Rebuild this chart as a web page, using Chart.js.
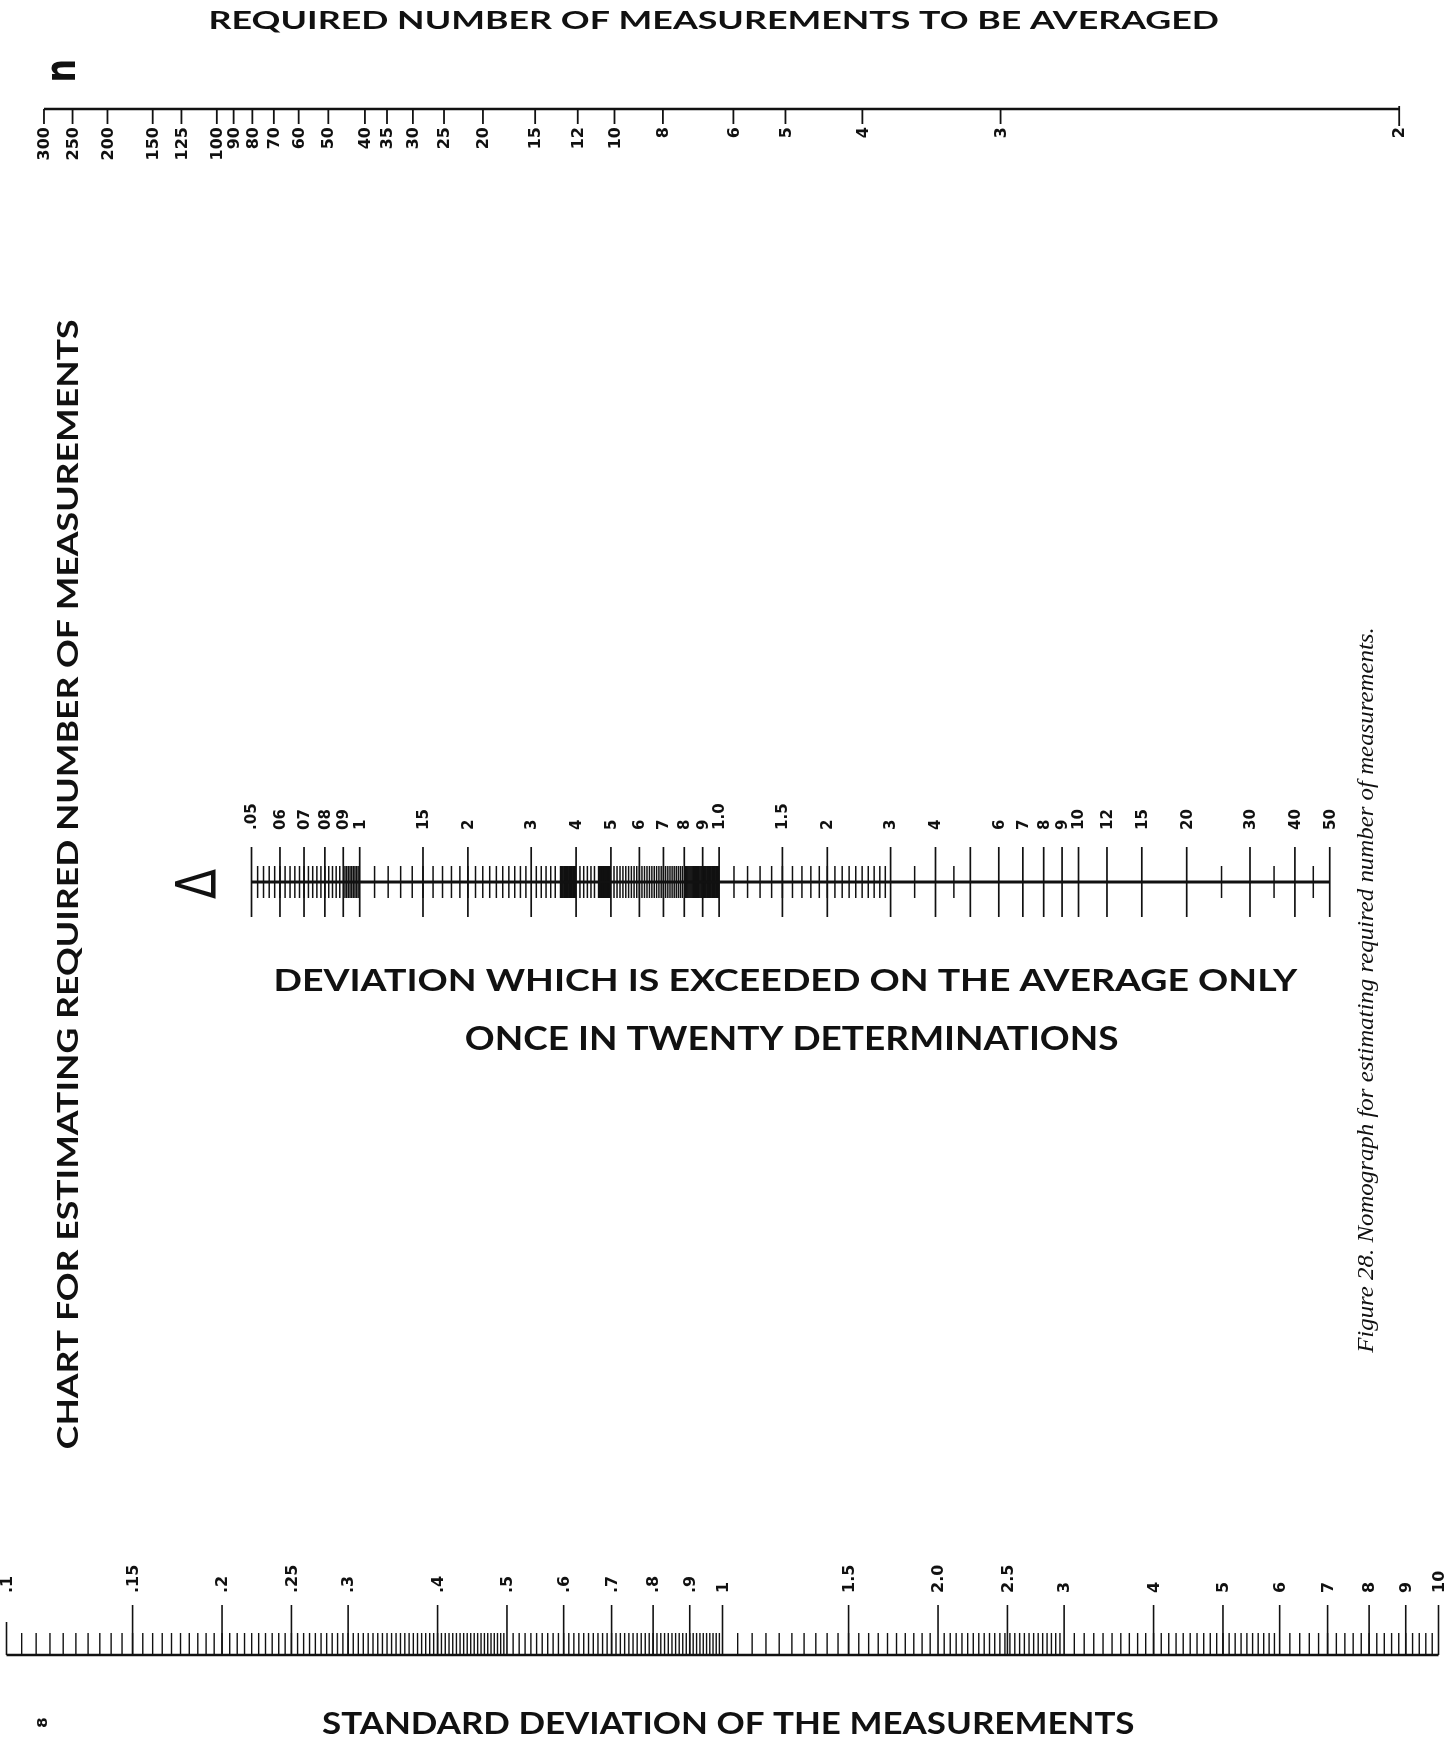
<!DOCTYPE html>
<html><head><meta charset="utf-8">
<script src="https://cdn.jsdelivr.net/npm/chart.js@4.4.1/dist/chart.umd.min.js"></script>
<style>html,body{margin:0;padding:0;background:#fff;}</style>
</head><body>
<canvas id="c" width="1455" height="1740"></canvas>
<script>
// ---------- DATA ----------
// Top scale: required number n, placed by t(0.975, n-1)/sqrt(n)
const nLabels = [300,250,200,150,125,100,90,80,70,60,50,40,35,30,25,20,15,12,10,8,6,5,4,3,2];
const tQuantiles = [1.968,1.970,1.972,1.976,1.979,1.984,1.987,1.990,1.995,2.001,2.010,2.023,2.032,2.045,2.064,2.093,2.145,2.201,2.262,2.365,2.571,2.776,3.182,4.303,12.706];

// Middle scale: deviation exceeded once in twenty (Delta)
const deltaLabelValues = [0.05,0.06,0.07,0.08,0.09,0.1,0.15,0.2,0.3,0.4,0.5,0.6,0.7,0.8,0.9,1.0,1.5,2,3,4,6,7,8,9,10,12,15,20,30,40,50];
const deltaLabelTexts  = [".05","06","07","08","09","1","15","2","3","4","5","6","7","8","9","1.0","1.5","2","3","4","6","7","8","9","10","12","15","20","30","40","50"];
const deltaExtraLong   = [5];
const deltaMinorSingles = [3.5,4.5,25,35,45];
const deltaMinorRanges = [[0.05,0.09,0.002],[0.09,0.1,0.001],[0.1,0.3,0.01],[0.3,0.36,0.01],[0.36,0.4,0.002],[0.4,0.46,0.01],[0.46,0.5,0.002],[0.5,0.8,0.01],[0.8,1.0,0.005],[1,3,0.1]];

// Bottom scale: standard deviation of the measurements (sigma)
const sigmaLabelValues = [0.1,0.15,0.2,0.25,0.3,0.4,0.5,0.6,0.7,0.8,0.9,1,1.5,2,2.5,3,4,5,6,7,8,9,10];
const sigmaLabelTexts  = [".1",".15",".2",".25",".3",".4",".5",".6",".7",".8",".9","1","1.5","2.0","2.5","3","4","5","6","7","8","9","10"];
const sigmaMinorRanges = [[0.1,0.5,0.005],[0.5,1,0.01],[1,2,0.05],[2,3,0.04],[3,6,0.1],[6,10,0.2]];

// ---------- derived ----------
const nRatio = nLabels.map((n,i)=>tQuantiles[i]/Math.sqrt(n));
function expand(ranges){
  const out=[];
  ranges.forEach(([a,b,s])=>{ const k=Math.round((b-a)/s); for(let i=1;i<k;i++) out.push(+(a+i*s).toFixed(5)); });
  return out;
}
const deltaMinor = expand(deltaMinorRanges).concat(deltaMinorSingles);
const sigmaMinor = expand(sigmaMinorRanges);
const sigmaLong = sigmaLabelValues.filter(v=>v!==0.1);
const sigmaMid = [0.1];

// layout (pixels of the y helper scale)
const Y_TOP=109, Y_MID=882, Y_BOT=1655;
const BLACK='#111';

function tickSet(axisId, values, yCenter, halfLen, width){
  return {type:'scatter', xAxisID:axisId, yAxisID:'y',
    data: values.map(v=>({x:v,y:yCenter})),
    pointStyle:'line', pointRotation:90, pointRadius:halfLen, pointHoverRadius:halfLen,
    pointBorderWidth:width, pointBorderColor:BLACK, pointBackgroundColor:BLACK, showLine:false};
}
function baseline(axisId, a, b, y, width){
  return {type:'line', xAxisID:axisId, yAxisID:'y', data:[{x:a,y:y},{x:b,y:y}],
    borderColor:BLACK, borderWidth:width, pointRadius:0, showLine:true, fill:false};
}

const datasets = [
  baseline('xn', nRatio[0], nRatio[nRatio.length-1], Y_TOP, 2.5),
  tickSet('xn', nRatio.slice(0,-1), Y_TOP+7.5, 7.5, 1.8),
  tickSet('xn', [nRatio[nRatio.length-1]], Y_TOP+7, 10, 1.8),
  baseline('xd', 0.05, 50, Y_MID, 3),
  tickSet('xd', deltaLabelValues.concat(deltaExtraLong), Y_MID, 35, 1.7),
  tickSet('xd', deltaMinor, Y_MID, 16, 1.5),
  baseline('xs', 0.1, 10, Y_BOT, 2.5),
  tickSet('xs', sigmaLong, Y_BOT-25, 25, 1.6),
  tickSet('xs', sigmaMid, Y_BOT-16.5, 16.5, 1.6),
  tickSet('xs', sigmaMinor, Y_BOT-11, 11, 1.4),
];

function rotLabel(ctx, txt, x, y, align){
  ctx.save(); ctx.translate(x,y); ctx.rotate(-Math.PI/2);
  ctx.textAlign=align; ctx.textBaseline='middle'; ctx.fillText(txt,0,1); ctx.restore();
}
// fit text into a screen box; rot = true means reading bottom-to-top
function fitBox(ctx, txt, font, x0, y0, x1, y1, rot){
  ctx.save();
  ctx.font=font; ctx.textAlign='left'; ctx.textBaseline='alphabetic';
  const m=ctx.measureText(txt);
  const w=m.actualBoundingBoxLeft+m.actualBoundingBoxRight;
  const h=m.actualBoundingBoxAscent+m.actualBoundingBoxDescent;
  const cx=(x0+x1)/2, cy=(y0+y1)/2;
  const along = rot ? (y1-y0) : (x1-x0);
  const across = rot ? (x1-x0) : (y1-y0);
  ctx.translate(cx,cy);
  if(rot) ctx.rotate(-Math.PI/2);
  ctx.scale(along/w, across/h);
  ctx.fillText(txt, -(m.actualBoundingBoxRight-m.actualBoundingBoxLeft)/2, (m.actualBoundingBoxAscent-m.actualBoundingBoxDescent)/2);
  ctx.restore();
}

const textPlugin = {
  id:'nomoText',
  afterDraw(chart){
    const ctx=chart.ctx, sN=chart.scales.xn, sD=chart.scales.xd, sS=chart.scales.xs;
    ctx.save(); ctx.fillStyle=BLACK;
    ctx.font='bold 16px "DejaVu Sans"';
    nLabels.forEach((n,i)=>rotLabel(ctx, String(n), sN.getPixelForValue(nRatio[i]), 127, 'right'));
    ctx.font='bold 15px "DejaVu Sans"';
    deltaLabelValues.forEach((v,i)=>rotLabel(ctx, deltaLabelTexts[i], sD.getPixelForValue(v), 830, 'left'));
    ctx.font='bold 16px "DejaVu Sans"';
    sigmaLabelValues.forEach((v,i)=>rotLabel(ctx, sigmaLabelTexts[i], sS.getPixelForValue(v), 1593, 'left'));

    const F='bold 30px Lato';
    fitBox(ctx,'REQUIRED NUMBER OF MEASUREMENTS TO BE AVERAGED',F,211,10,1218,32,false);
    fitBox(ctx,'CHART FOR ESTIMATING REQUIRED NUMBER OF MEASUREMENTS',F,58,320,82,1448,true);
    fitBox(ctx,'DEVIATION WHICH IS EXCEEDED ON THE AVERAGE ONLY',F,276,968,1298,991,false);
    fitBox(ctx,'ONCE IN TWENTY DETERMINATIONS',F,466,1026,1118,1050,false);
    fitBox(ctx,'STANDARD DEVIATION OF THE MEASUREMENTS',F,322,1711,1134,1734,false);
    fitBox(ctx,'Figure 28. Nomograph for estimating required number of measurements.','italic 22px "Liberation Serif"',1357,629,1378,1354,true);
    fitBox(ctx,'n','bold 40px "DejaVu Sans"',50,61,75,80,true);
    fitBox(ctx,'8','bold 14px "DejaVu Sans"',37,1718,47,1728,true);
    fitBox(ctx,'Δ','56px "DejaVu Sans"',175,869,216,899,true);
    ctx.restore();
  }
};

new Chart(document.getElementById('c'), {
  type:'scatter',
  data:{datasets},
  options:{
    responsive:false, animation:false, events:[],
    layout:{padding:0, autoPadding:false},
    plugins:{legend:{display:false}, tooltip:{enabled:false}},
    scales:{
      xn:{axis:'x', type:'logarithmic', min:0.09860, max:10.756, bounds:'data', display:false},
      xd:{axis:'x', type:'logarithmic', min:0.009981, max:111.56, bounds:'data', display:false},
      xs:{axis:'x', type:'logarithmic', min:0.09793, max:10.545, bounds:'data', display:false},
      y:{type:'linear', min:0, max:1740, reverse:true, display:false}
    }
  },
  plugins:[textPlugin]
});
</script>
</body></html>
